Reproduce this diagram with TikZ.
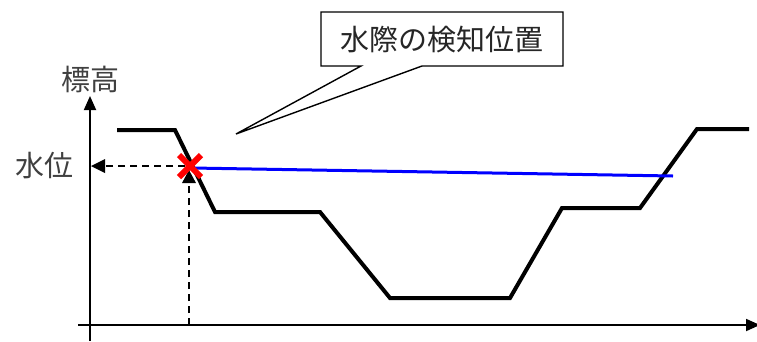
\documentclass[tikz,border=0pt]{standalone}
\usepackage{fontspec}
\newfontfamily\jp{Noto Sans CJK JP}
\usetikzlibrary{arrows.meta,calc}
\definecolor{txt}{RGB}{64,64,64}
\tikzset{
  axis/.style={line width=1.8pt,-{Triangle[length=14pt,width=12pt]}},
  profile/.style={line width=4pt,line join=miter},
  guide/.style={line width=1.6pt,dash pattern=on 7pt off 5pt},
  lbl/.style={font=\jp\fontsize{29}{31}\selectfont,text=txt,inner sep=0pt},
}
\begin{document}
\begin{tikzpicture}[x=1pt,y=-1pt]
\useasboundingbox (0,0) rectangle (757,341);
% axes
\coordinate (yb) at (90,341);
\coordinate (yt) at (90,96);
\coordinate (xl) at (78,325);
\coordinate (xr) at (760,325);
\draw[axis] (yb) -- (yt);
\draw[axis] (xl) -- (xr);
% labels
\node[lbl] (hyoko) at (90,79) {標高};
\node[lbl] (suii) at (45,166) {水位};
% profile
\draw[profile] (117,130) -- (175,130) -- (215,212) -- (320,212) -- (390,298)
  -- (510,298) -- (562,208) -- (640,208) -- (697,129) -- (749,129);
% water surface
\coordinate (ws) at (192,168);
\coordinate (we) at (673,176);
\draw[blue,line width=3pt] (ws) -- (we);
% guides
\coordinate (gx) at (189,325);
\coordinate (gt) at (189,170);
\coordinate (gl) at (91,166);
\coordinate (gr) at (185,166);
\draw[guide] (gx) -- (189,180);
\fill (182,183) -- (196,183) -- (gt) -- cycle;
\draw[guide] (gr) -- (106,166);
\fill (gl) -- (105,159) -- (105,173) -- cycle;
% red cross
\coordinate (xc) at (190,166);
\draw[red,line width=6pt] ($(xc)+(-11,-11)$) -- ($(xc)+(11,11)$);
\draw[red,line width=6pt] ($(xc)+(-11,11)$) -- ($(xc)+(11,-11)$);
% callout
\coordinate (tip) at (236,134);
\draw[line width=1.4pt,fill=white,line join=miter] (321,12) -- (563,12) -- (563,66) -- (422,66) -- (tip) -- (361,66) -- (321,66) -- cycle;
\node[lbl,text=black!85] (callout) at (442,40) {水際の検知位置};
\end{tikzpicture}
\end{document}
